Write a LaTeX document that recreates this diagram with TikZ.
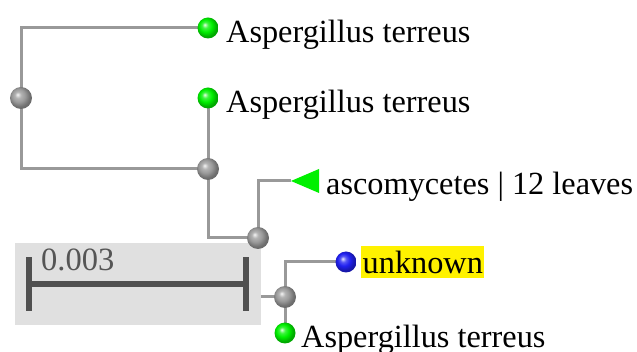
\documentclass[tikz,border=0pt]{standalone}
\usepackage{fontspec}
\setmainfont{Liberation Serif}
\newfontfamily\treeserif{Liberation Serif}
\usetikzlibrary{backgrounds}
\definecolor{edgegray}{HTML}{999999}
\definecolor{bargray}{HTML}{505050}
\definecolor{boxgray}{HTML}{E0E0E0}
\definecolor{labelgray}{HTML}{555555}
\definecolor{leafgreen}{HTML}{00F000}
\definecolor{leafblue}{HTML}{2020F0}
\definecolor{nodegray}{HTML}{9A9A9A}
\makeatletter
\pgfdeclareradialshading[tikz@ball]{softball}{\pgfqpoint{-8bp}{8bp}}{%
  color(0bp)=(tikz@ball!10!white);
  color(7bp)=(tikz@ball!75!white);
  color(15bp)=(tikz@ball);
  color(24bp)=(tikz@ball!72!black);
  color(50bp)=(tikz@ball!55!black)}
\makeatother
\tikzset{
  edge/.style={draw=edgegray, line width=3pt},
  inner/.style={circle, minimum size=22pt, inner sep=0pt, ball color=nodegray, shading=softball},
  greenleaf/.style={circle, minimum size=21pt, inner sep=0pt, ball color=leafgreen, shading=softball},
  blueleaf/.style={circle, minimum size=21pt, inner sep=0pt, ball color=leafblue, shading=softball},
  lbl/.style={anchor=base west, inner sep=0pt, font=\treeserif\fontsize{32.3}{37}\selectfont},
}
\begin{document}
\begin{tikzpicture}[x=1pt, y=-1pt]
\useasboundingbox (0,0) rectangle (637,352);
% scale bar
\fill[boxgray] (15,243) rectangle (261,325);
\node[anchor=base west, inner sep=0pt, text=labelgray, font=\treeserif\fontsize{32.5}{37}\selectfont] (scalelbl) at (41,271) {0.003};
\coordinate (sbl) at (29,284);
\coordinate (sbr) at (246,284);
\draw[bargray, line width=6pt] (sbl) -- (sbr);
\draw[bargray, line width=6pt] ([yshift=-27pt]sbl) -- ([yshift=27pt]sbl);
\draw[bargray, line width=6pt] ([yshift=-27pt]sbr) -- ([yshift=27pt]sbr);
% nodes
\node[inner] (root) at (21,98) {};
\node[greenleaf] (l1) at (208,28) {};
\node[greenleaf] (l2) at (208,98) {};
\node[inner] (n2) at (208,169) {};
\node[inner] (n3) at (258,238) {};
\coordinate (tri) at (291,181);
\node[inner] (n4) at (285,297) {};
\node[blueleaf] (unk) at (346,262) {};
\node[greenleaf] (l3) at (285,333) {};
% collapsed clade triangle
\fill[leafgreen] (tri) -- (319,169) -- (319,193) -- cycle;
% edges
\begin{scope}[on background layer]
\draw[edge] (root.center) |- (l1.center);
\draw[edge] (root.center) |- (n2.center);
\draw[edge] (n2.center) -- (l2.center);
\draw[edge] (n2.center) |- (n3.center);
\draw[edge] (n3.center) |- (tri);
\draw[edge] (n3.center) |- (n4.center);
\draw[edge] (n4.center) |- (unk.center);
\draw[edge] (n4.center) -- (l3.center);
\end{scope}
% labels
\node[lbl] (t1) at (226,43) {Aspergillus terreus};
\node[lbl] (t2) at (226,113) {Aspergillus terreus};
\node[lbl] (t3) at (326,195) {ascomycetes | 12 leaves};
\node[anchor=west, fill=yellow, inner xsep=1.5pt, inner ysep=0pt, minimum height=32pt, font=\treeserif\fontsize{32.3}{37}\selectfont] (t4) at (361,262) {unknown};
\node[lbl] (t5) at (301,348) {Aspergillus terreus};
\end{tikzpicture}
\end{document}
